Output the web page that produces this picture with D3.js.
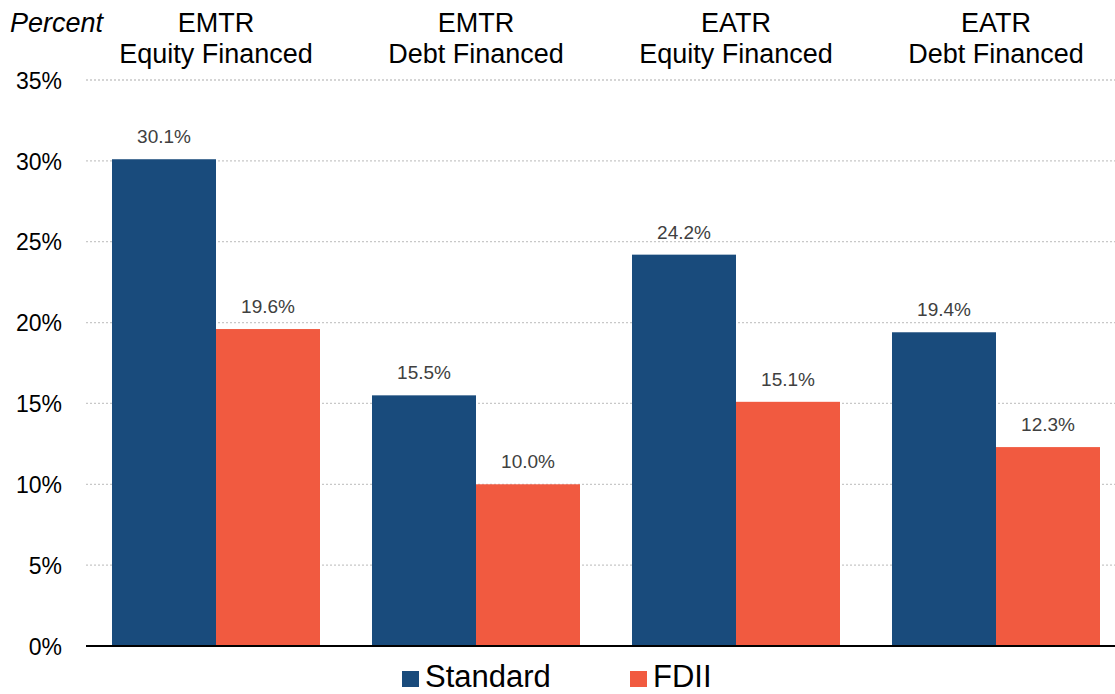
<!DOCTYPE html>
<html><head><meta charset="utf-8">
<script src="https://cdn.jsdelivr.net/npm/d3@7"></script>
<style>body{margin:0;background:#fff;}svg{display:block;font-family:Arial,"Liberation Sans",sans-serif;}</style>
</head><body><svg id="c" width="1115" height="694"></svg>
<script>
const categories = [["EMTR","Equity Financed"],["EMTR","Debt Financed"],["EATR","Equity Financed"],["EATR","Debt Financed"]];
const seriesNames = ["Standard","FDII"];
const standardValues = [30.1,15.5,24.2,19.4];
const fdiiValues = [19.6,10.0,15.1,12.3];
const yTicks = [0,5,10,15,20,25,30,35];
const colors = ["#194b7c","#f15a40"];

const svg = d3.select("#c");
const x0 = d3.scaleBand().domain(d3.range(categories.length)).range([86,1126]).paddingInner(0.2).paddingOuter(0.1);
const x1 = d3.scaleBand().domain([0,1]).range([0,x0.bandwidth()]);
const y = d3.scaleLinear().domain([0,35]).range([646,80]);

// gridlines
svg.append("g").selectAll("line").data(yTicks.filter(d=>d>0)).join("line")
  .attr("x1",86).attr("x2",1115).attr("y1",d=>y(d)).attr("y2",d=>y(d))
  .attr("stroke","#c8c8c8").attr("stroke-width",1.3).attr("stroke-dasharray","2,2");

// y axis labels
const yAxis = d3.axisLeft(y).tickValues(yTicks).tickFormat(d=>d+"%").tickSize(0).tickPadding(0);
const ga = svg.append("g").attr("transform","translate(62,0)").call(yAxis);
ga.select(".domain").remove();
ga.selectAll("text").attr("font-size",23).attr("fill","#000").attr("font-family","Arial,'Liberation Sans',sans-serif").attr("dy","0.36em");

const data = categories.map((c,i)=>[standardValues[i],fdiiValues[i]]);
const groups = svg.append("g").selectAll("g").data(data).join("g").attr("transform",(d,i)=>`translate(${x0(i)},0)`);
groups.selectAll("rect").data(d=>d).join("rect")
  .attr("x",(d,j)=>x1(j)).attr("width",x1.bandwidth())
  .attr("y",d=>y(d)).attr("height",d=>y(0)-y(d)).attr("fill",(d,j)=>colors[j]);
groups.selectAll("text").data(d=>d).join("text")
  .attr("x",(d,j)=>x1(j)+x1.bandwidth()/2).attr("y",d=>y(d)-16)
  .attr("text-anchor","middle").attr("font-size",19).attr("fill","#404040")
  .text(d=>d.toFixed(1)+"%");

// baseline
svg.append("line").attr("x1",86).attr("x2",1115).attr("y1",y(0)).attr("y2",y(0)).attr("stroke","#000").attr("stroke-width",2);

// category labels
const cl = svg.append("g").selectAll("text").data(categories).join("text")
  .attr("x",(d,i)=>x0(i)+x0.bandwidth()/2).attr("text-anchor","middle").attr("font-size",27).attr("fill","#000");
cl.append("tspan").attr("x",(d,i)=>x0(i)+x0.bandwidth()/2).attr("y",32).text(d=>d[0]);
cl.append("tspan").attr("x",(d,i)=>x0(i)+x0.bandwidth()/2).attr("y",63).text(d=>d[1]);

svg.append("text").attr("x",10).attr("y",32).attr("font-size",27).attr("font-style","italic").text("Percent");

// legend
const legX = [402,630];
const lg = svg.append("g").selectAll("g").data(seriesNames).join("g").attr("transform",(d,i)=>`translate(${legX[i]},0)`);
lg.append("rect").attr("x",0).attr("y",671).attr("width",17).attr("height",16).attr("fill",(d,i)=>colors[i]);
lg.append("text").attr("x",23).attr("y",687).attr("font-size",31).attr("fill","#000").text(d=>d);
</script></body></html>
